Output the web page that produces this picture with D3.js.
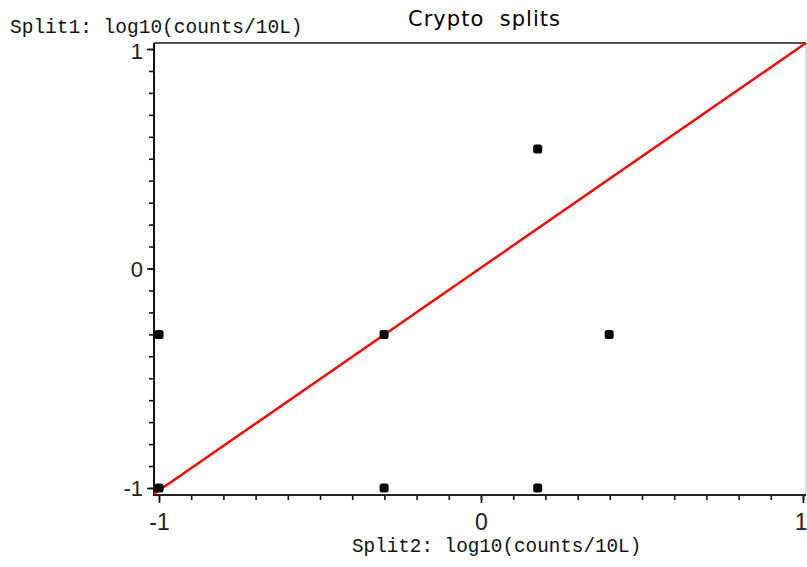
<!DOCTYPE html>
<html>
<head>
<meta charset="utf-8">
<script src="https://cdn.jsdelivr.net/npm/d3@7"></script>
<style>
html,body{margin:0;padding:0;background:#fff;}
svg{display:block;}
</style>
</head>
<body>
<svg id="chart" width="807" height="567"></svg>
<script>
// Data: log10(counts/10L) for the two splits
const split2 = [-1, -0.301, 0.176, 0.398, -1, -0.301, 0.176];
const split1 = [-0.301, -0.301, 0.544, -0.301, -1, -1, -1];
const refLineX = [-1.016, 1.009];
const refLineY = [-1.027, 1.027];
const majorTicks = [-1, 0, 1];
const minorTicks = d3.range(-10, 11).map(i => i / 10);
const title = "Crypto  splits";
const xLabel = "Split2: log10(counts/10L)";
const yLabel = "Split1: log10(counts/10L)";

const svg = d3.select("#chart");
const x = d3.scaleLinear().domain([-1, 1]).range([159, 803]);
const y = d3.scaleLinear().domain([-1, 1]).range([488, 49]);

const frame = {left: 154, right: 806, top: 43, bottom: 495};
const tickFont = "Liberation Sans, Arial, sans-serif";
const fmt = d => d < 0 ? "-" + Math.abs(d) : String(d);

// frame: top and right borders
svg.append("line").attr("x1", frame.left).attr("x2", frame.right)
  .attr("y1", frame.top).attr("y2", frame.top)
  .attr("stroke", "#555").attr("stroke-width", 2);
svg.append("line").attr("x1", frame.right).attr("x2", frame.right)
  .attr("y1", frame.top).attr("y2", frame.bottom)
  .attr("stroke", "#bbb").attr("stroke-width", 1);

// x axis
const gxm = svg.append("g").attr("transform", `translate(0,${frame.bottom})`)
  .call(d3.axisBottom(x).tickValues(minorTicks).tickSize(5).tickFormat(""));
gxm.select(".domain").remove();
const gx = svg.append("g").attr("transform", `translate(0,${frame.bottom})`)
  .call(d3.axisBottom(x).tickValues(majorTicks).tickSize(8).tickFormat(fmt));
gx.select(".domain").remove();
gx.selectAll("text").attr("font-family", tickFont)
  .attr("font-size", 23).attr("fill", "#222").attr("dy", null).attr("y", 35);
gx.selectAll(".tick").filter(d => d === 1).select("text")
  .attr("text-anchor", "end").attr("x", 4);
svg.append("line").attr("x1", frame.left).attr("x2", frame.right)
  .attr("y1", frame.bottom).attr("y2", frame.bottom)
  .attr("stroke", "#222").attr("stroke-width", 2);

// y axis
const gym = svg.append("g").attr("transform", `translate(${frame.left},0)`)
  .call(d3.axisLeft(y).tickValues(minorTicks).tickSize(5).tickFormat(""));
gym.select(".domain").remove();
const gy = svg.append("g").attr("transform", `translate(${frame.left},0)`)
  .call(d3.axisLeft(y).tickValues(majorTicks).tickSize(7).tickFormat(fmt));
gy.select(".domain").remove();
gy.selectAll("text").attr("font-family", tickFont)
  .attr("font-size", 22).attr("fill", "#222").attr("x", -11).attr("dy", "0.36em");
gy.selectAll(".tick").filter(d => d === 1).select("text").attr("dy", "0.45em");
svg.selectAll(".tick line").attr("stroke", "#111").attr("stroke-width", 1.6);
svg.append("line").attr("x1", frame.left).attr("x2", frame.left)
  .attr("y1", frame.top).attr("y2", frame.bottom + 1)
  .attr("stroke", "#111").attr("stroke-width", 2);

// reference line
svg.append("line")
  .attr("x1", x(refLineX[0])).attr("y1", y(refLineY[0]))
  .attr("x2", x(refLineX[1])).attr("y2", y(refLineY[1]))
  .attr("stroke", "#ff0000").attr("stroke-width", 2.4);

// points
const pts = split2.map((v, i) => ({x: v, y: split1[i]}));
svg.append("g").selectAll("rect").data(pts).join("rect")
  .attr("x", d => x(d.x) - 4.5).attr("y", d => y(d.y) - 4.5)
  .attr("width", 9).attr("height", 9).attr("rx", 2.5)
  .attr("fill", "#000");

// title and labels
svg.append("text").attr("x", 408).attr("y", 26)
  .attr("xml:space", "preserve").style("white-space", "pre")
  .attr("textLength", 152).attr("lengthAdjust", "spacing")
  .attr("font-family", "DejaVu Sans, sans-serif").attr("font-size", 21)
  .attr("fill", "#000").text(title);
svg.append("text").attr("x", 10).attr("y", 33)
  .attr("font-family", "Liberation Mono, Courier New, monospace").attr("font-size", 19.5)
  .attr("fill", "#111").text(yLabel);
svg.append("text").attr("x", 352).attr("y", 552)
  .attr("font-family", "Liberation Mono, Courier New, monospace").attr("font-size", 19.3)
  .attr("fill", "#111").text(xLabel);
</script>
</body>
</html>
